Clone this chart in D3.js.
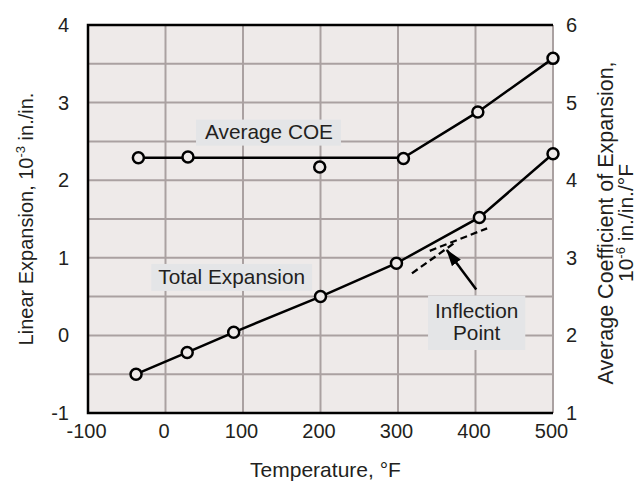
<!DOCTYPE html>
<html>
<head>
<meta charset="utf-8">
<script src="https://cdn.jsdelivr.net/npm/d3@7"></script>
<style>
  body { margin: 0; background: #fff; }
  svg text { font-family: "Liberation Sans", Arial, sans-serif; fill: #231f20; }
</style>
</head>
<body>
<svg id="chart"></svg>
<script>
// x = temperature (F), left y = linear expansion (10^-3 in./in.), right y = average COE (10^-6 in./in./F)
var tempTicks = [-100, 0, 100, 200, 300, 400, 500];
var expansionTicks = [-1, 0, 1, 2, 3, 4];
var coeTicks = [1, 2, 3, 4, 5, 6];

// average COE, read against the right axis
var coeTemps  = [-35, 29, 199, 307, 403, 500];
var coeValues = [4.29, 4.30, 4.17, 4.28, 4.88, 5.57];
var coeFitTemps  = [-35, 307, 403, 500];
var coeFitValues = [4.29, 4.29, 4.88, 5.57];

// total expansion, read against the left axis
var totalTemps  = [-38, 28, 88, 200, 298, 405, 500];
var totalValues = [-0.5, -0.22, 0.04, 0.5, 0.93, 1.52, 2.34];

// dashed tangents around the inflection point (left axis units)
var tangentATemps  = [318, 374];
var tangentAValues = [0.80, 1.20];
var tangentBTemps  = [341, 415];
var tangentBValues = [1.09, 1.38];

// arrow from the label to the inflection
var arrowTemps  = [401, 363];
var arrowValues = [0.59, 1.10];

var width  = 643;
var height = 483;
var margin = { top: 25, bottom: 70, left: 88, right: 90 };

var svg = d3.select('#chart')
            .attr('width', width)
            .attr('height', height);

var xScale = d3.scaleLinear()
               .domain([-100, 500])
               .range([margin.left, width - margin.right]);

var yLeft = d3.scaleLinear()
              .domain([-1, 4])
              .range([height - margin.bottom, margin.top]);

var yRight = d3.scaleLinear()
               .domain([1, 6])
               .range([height - margin.bottom, margin.top]);

var x0 = xScale(-100), x1 = xScale(500);
var yTop = yLeft(4), yBot = yLeft(-1);

// plot background
svg.append('rect')
   .attr('x', x0).attr('y', yTop)
   .attr('width', x1 - x0).attr('height', yBot - yTop)
   .attr('fill', '#eeeae9');

// grid
var grid = svg.append('g').attr('stroke', '#aaa1a1').attr('stroke-width', 2);
grid.selectAll('line.v')
    .data(tempTicks.slice(1))
    .enter().append('line')
    .attr('class', 'v')
    .attr('x1', d => xScale(d)).attr('x2', d => xScale(d))
    .attr('y1', yTop).attr('y2', yBot);
grid.selectAll('line.h')
    .data(d3.range(-0.5, 4, 0.5))
    .enter().append('line')
    .attr('class', 'h')
    .attr('x1', x0).attr('x2', x1)
    .attr('y1', d => yLeft(d)).attr('y2', d => yLeft(d));

// frame: top, left, bottom
svg.append('path')
   .attr('d', 'M' + x1 + ',' + yTop + 'H' + x0 + 'V' + yBot + 'H' + x1)
   .attr('fill', 'none')
   .attr('stroke', '#000')
   .attr('stroke-width', 2.5);

// axes
var fmt = d => String(d);
var xAxis = svg.append('g')
   .attr('transform', 'translate(0,' + yBot + ')')
   .call(d3.axisBottom(xScale).tickValues(tempTicks).tickFormat(fmt).tickSize(0).tickPadding(11));
var leftAxis = svg.append('g')
   .attr('transform', 'translate(' + x0 + ',0)')
   .call(d3.axisLeft(yLeft).tickValues(expansionTicks).tickFormat(fmt).tickSize(0).tickPadding(19));
var rightAxis = svg.append('g')
   .attr('transform', 'translate(' + x1 + ',0)')
   .call(d3.axisRight(yRight).tickValues(coeTicks).tickFormat(fmt).tickSize(0).tickPadding(13));

[xAxis, leftAxis, rightAxis].forEach(function(g) {
  g.select('.domain').remove();
  g.attr('font-size', 20).attr('font-family', null);
  g.selectAll('text').attr('fill', '#231f20');
});
// tick labels sit a little left of their gridlines in the original
xAxis.selectAll('text').attr('dx', -2);

// axis titles
svg.append('text')
   .attr('x', (x0 + x1) / 2 + 5)
   .attr('y', 477)
   .attr('text-anchor', 'middle')
   .style('font-size', '21px')
   .text('Temperature, °F');

var leftTitle = svg.append('text')
   .attr('transform', 'translate(33,' + ((yTop + yBot) / 2) + ') rotate(-90)')
   .attr('text-anchor', 'middle')
   .style('font-size', '20px');
leftTitle.append('tspan').text('Linear Expansion, 10');
leftTitle.append('tspan').attr('dy', -8).style('font-size', '13px').text('-3');
leftTitle.append('tspan').attr('dy', 8).text(' in./in.');

var rightTitle = svg.append('g')
   .attr('transform', 'translate(0,' + ((yTop + yBot) / 2 + 4) + ')');
rightTitle.append('text')
   .attr('transform', 'translate(613,0) rotate(-90)')
   .attr('text-anchor', 'middle')
   .style('font-size', '21.5px')
   .text('Average Coefficient of Expansion,');
var rt2 = rightTitle.append('text')
   .attr('transform', 'translate(633,0) rotate(-90)')
   .attr('text-anchor', 'middle')
   .style('font-size', '21px');
rt2.append('tspan').text('10');
rt2.append('tspan').attr('dy', -8).style('font-size', '13px').text('-6');
rt2.append('tspan').attr('dy', 8).text(' in./in./°F');

// lines
var lineLeft = d3.line().x(d => xScale(d[0])).y(d => yLeft(d[1]));
var lineRight = d3.line().x(d => xScale(d[0])).y(d => yRight(d[1]));

svg.append('path')
   .datum(d3.zip(coeFitTemps, coeFitValues))
   .attr('d', lineRight)
   .attr('fill', 'none').attr('stroke', '#000').attr('stroke-width', 2.5);

svg.append('path')
   .datum(d3.zip(totalTemps, totalValues))
   .attr('d', lineLeft)
   .attr('fill', 'none').attr('stroke', '#000').attr('stroke-width', 2.5);

[[tangentATemps, tangentAValues], [tangentBTemps, tangentBValues]].forEach(function(t) {
  svg.append('path')
     .datum(d3.zip(t[0], t[1]))
     .attr('d', lineLeft)
     .attr('fill', 'none').attr('stroke', '#000')
     .attr('stroke-width', 2.3).attr('stroke-dasharray', '7,4');
});

// points
svg.selectAll('circle.coe')
   .data(d3.zip(coeTemps, coeValues))
   .enter().append('circle')
   .attr('class', 'coe')
   .attr('cx', d => xScale(d[0])).attr('cy', d => yRight(d[1]))
   .attr('r', 5.5)
   .attr('fill', '#eeeae9').attr('stroke', '#000').attr('stroke-width', 2.5);

svg.selectAll('circle.total')
   .data(d3.zip(totalTemps, totalValues))
   .enter().append('circle')
   .attr('class', 'total')
   .attr('cx', d => xScale(d[0])).attr('cy', d => yLeft(d[1]))
   .attr('r', 5.5)
   .attr('fill', '#eeeae9').attr('stroke', '#000').attr('stroke-width', 2.5);

// arrow
svg.append('defs').append('marker')
   .attr('id', 'head')
   .attr('viewBox', '0 0 17 11')
   .attr('refX', 16).attr('refY', 5.5)
   .attr('markerWidth', 17).attr('markerHeight', 11)
   .attr('markerUnits', 'userSpaceOnUse')
   .attr('orient', 'auto')
   .append('path')
   .attr('d', 'M0,0L17,5.5L0,11Z')
   .attr('fill', '#000');

svg.append('path')
   .datum(d3.zip(arrowTemps, arrowValues))
   .attr('d', lineLeft)
   .attr('fill', 'none').attr('stroke', '#000').attr('stroke-width', 2.5)
   .attr('marker-end', 'url(#head)');

// boxed labels
function boxLabel(lines, temp, val, anchor, pad) {
  var g = svg.append('g');
  var rect = g.append('rect').attr('fill', '#e4e5e7');
  var t = g.append('text')
           .attr('x', xScale(temp))
           .attr('y', yLeft(val))
           .attr('text-anchor', anchor)
           .style('font-size', '20.8px');
  lines.forEach(function(s, i) {
    t.append('tspan').attr('x', xScale(temp)).attr('dy', i ? 22 : 0).text(s);
  });
  var b = t.node().getBBox();
  rect.attr('x', b.x - pad[3]).attr('y', b.y - pad[0])
      .attr('width', b.width + pad[1] + pad[3])
      .attr('height', b.height + pad[0] + pad[2]);
}

boxLabel(['Average COE'], 51, 2.536, 'start', [0, 8, 3, 9]);
boxLabel(['Total Expansion'], -9.3, 0.663, 'start', [1, 7, 3, 7]);
boxLabel(['Inflection', 'Point'], 401.5, 0.224, 'middle', [3.5, 7, 6, 7]);
</script>
</body>
</html>
